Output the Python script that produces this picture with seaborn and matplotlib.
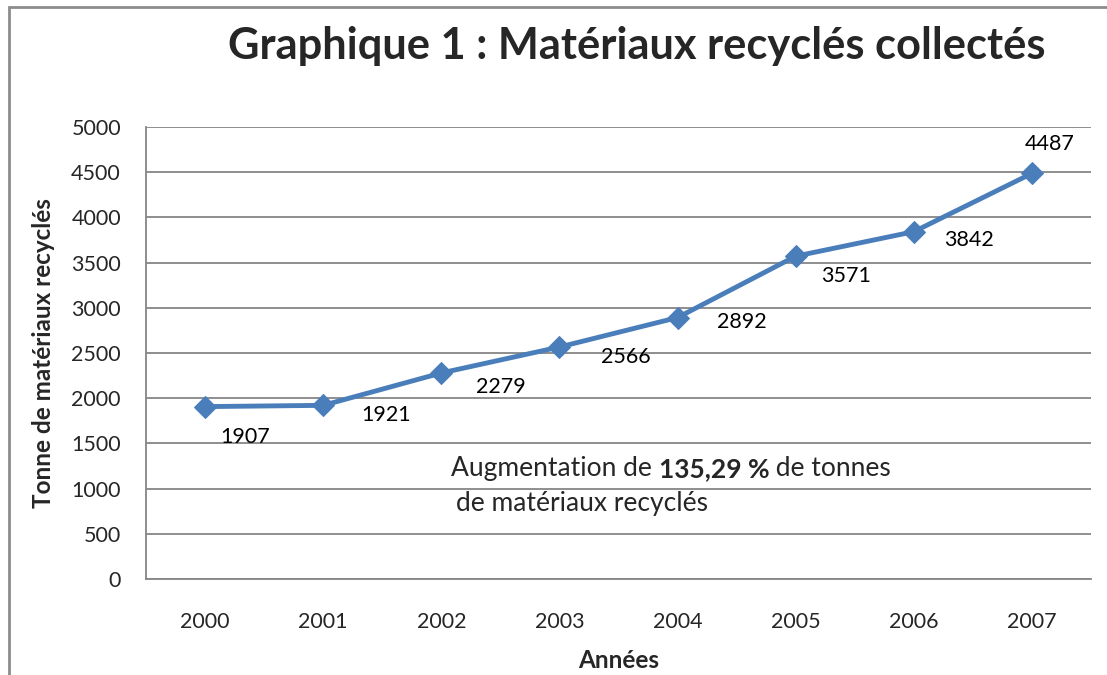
import matplotlib
matplotlib.use("Agg")
import matplotlib.pyplot as plt
import seaborn as sns
import pandas as pd
import numpy as np
from matplotlib.patches import Rectangle

years = ["2000", "2001", "2002", "2003", "2004", "2005", "2006", "2007"]
tonnes = [1907, 1921, 2279, 2566, 2892, 3571, 3842, 4487]
y_ticks = [0, 500, 1000, 1500, 2000, 2500, 3000, 3500, 4000, 4500, 5000]

title = "Graphique 1 : Matériaux recyclés collectés"
xlabel = "Années"
ylabel = "Tonne de matériaux recyclés"
note_a = "Augmentation de "
note_b = "135,29 %"
note_c = " de tonnes"
note_d = "de matériaux recyclés"

# label offsets (points) relative to each marker
label_offsets = [(29, -22), (45, -7), (43, -10), (48, -7), (46, -3), (36, -14), (40, -6), (13, 21)]

sns.set_style("white")
FONT = ["Lato", "DejaVu Sans"]
plt.rcParams["font.family"] = FONT

fig = plt.figure(figsize=(11.07, 6.75), dpi=100)
ax = fig.add_axes([146/1107, 1-579/675, (1091-146)/1107, (579-127)/675])

df = pd.DataFrame({"year": years, "t": tonnes})
blue = "#4A7EBB"
sns.lineplot(data=df, x="year", y="t", ax=ax, color=blue, linewidth=3.5,
             marker="D", markersize=11, markeredgecolor=blue, sort=False)

grid = "#868686"
ax.set_xlim(-0.5, len(years) - 0.5)
ax.set_ylim(0, 5000)
ax.set_yticks(y_ticks)
ax.set_yticklabels([str(v) for v in y_ticks], fontsize=15.5)
ax.set_xticks(range(len(years)))
ax.set_xticklabels(years, fontsize=15.5)
ax.set_xticks(np.arange(-0.5, len(years)), minor=True)
ax.tick_params(axis="x", which="major", length=0, pad=24)
ax.tick_params(axis="x", which="minor", length=6, color=grid, width=1.3, direction="out")
ax.tick_params(axis="y", length=6, color=grid, width=1.3, direction="out", pad=12)
ax.yaxis.grid(True, color=grid, linewidth=1.3)
ax.set_axisbelow(True)
for s in ["top", "right"]:
    ax.spines[s].set_visible(False)
for s in ["left", "bottom"]:
    ax.spines[s].set_color(grid)
    ax.spines[s].set_linewidth(1.3)

ax.set_xlabel(xlabel, fontsize=17.5, fontweight="bold", labelpad=12)
ax.set_ylabel(ylabel, fontsize=17.5, fontweight="bold", labelpad=12)

for i, (v, off) in enumerate(zip(tonnes, label_offsets)):
    ax.annotate(str(v), xy=(i, v), xytext=off, textcoords="offset points",
                ha="center", va="center", fontsize=15.5, color="black")

t1 = ax.text(451/1107, 1-481/675, note_a, transform=fig.transFigure, fontsize=19,
             ha="left", va="bottom")
t2 = ax.annotate(note_b, xy=(1, 0), xycoords=t1, fontsize=19, fontweight="bold",
                 ha="left", va="bottom")
t3 = ax.annotate(note_c, xy=(1, 0), xycoords=t2, fontsize=19, ha="left", va="bottom")
ax.text(456/1107, 1-516/675, note_d, transform=fig.transFigure, fontsize=19,
        ha="left", va="bottom")

fig.text(637/1107, 1-46/675, title, fontsize=31.2, fontweight="bold",
         ha="center", va="center")

fig.patches.append(Rectangle((9/1107, -0.1), 1.2, 1-7/675 + 0.1, transform=fig.transFigure,
                             fill=False, edgecolor="#8C8C8C", linewidth=2))

fig.savefig("out.png", dpi=100)
